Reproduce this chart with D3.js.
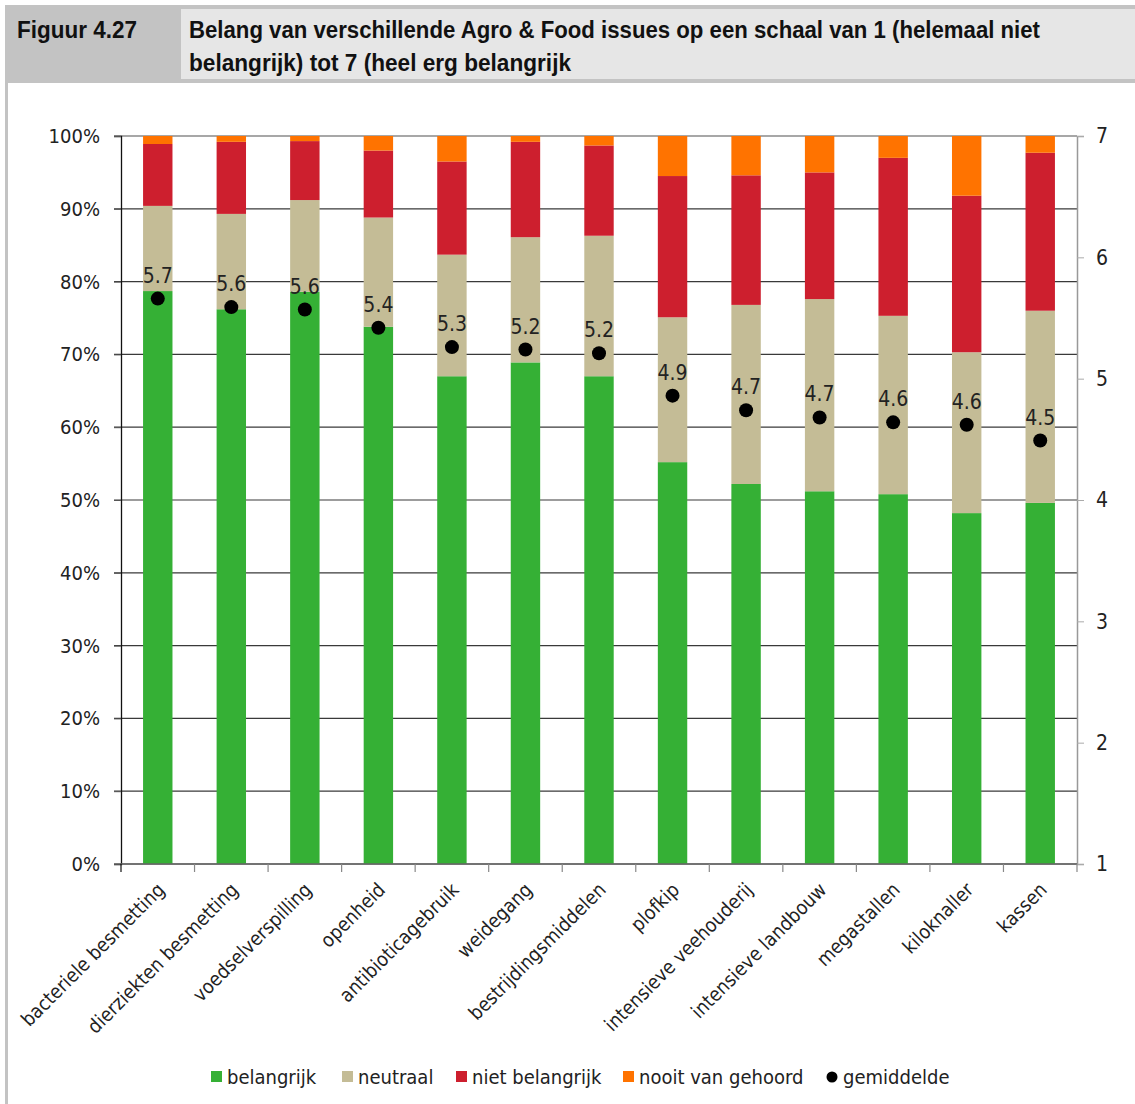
<!DOCTYPE html>
<html><head><meta charset="utf-8">
<script src="https://cdn.jsdelivr.net/npm/d3@7"></script>
<style>
body{margin:0;background:#fff;}
svg{display:block;}
.ax{font-family:'DejaVu Sans Condensed','DejaVu Sans',sans-serif;font-stretch:condensed;}
</style></head><body>
<svg id="chart" width="1135" height="1104"></svg>
<script>
const categories = ["bacteriele besmetting","dierziekten besmetting","voedselverspilling","openheid","antibioticagebruik","weidegang","bestrijdingsmiddelen","plofkip","intensieve veehouderij","intensieve landbouw","megastallen","kiloknaller","kassen"];
const belangrijk     = [78.7,76.2,78.6,73.8,67.0,68.9,67.0,55.2,52.2,51.2,50.8,48.2,49.6];
const neutraal       = [11.7,13.1,12.6,15.0,16.7,17.2,19.3,19.9,24.6,26.4,24.5,22.1,26.4];
const nietBelangrijk = [ 8.5, 9.9, 8.1, 9.2,12.8,13.1,12.4,19.4,17.8,17.4,21.7,21.5,21.7];
const nooitGehoord   = [ 1.1, 0.8, 0.7, 2.0, 3.5, 0.8, 1.3, 5.5, 5.4, 5.0, 3.0, 8.2, 2.3];
const gemiddelde     = [5.66,5.59,5.57,5.42,5.26,5.24,5.21,4.86,4.74,4.68,4.64,4.62,4.49];
const leftTicks = [0,10,20,30,40,50,60,70,80,90,100];
const rightTicks = [1,2,3,4,5,6,7];
const seriesNames = ["belangrijk","neutraal","niet belangrijk","nooit van gehoord"];
const seriesColors = ["#35b035","#c4bc96","#cd1f2e","#ff7300"];
const figLabel = "Figuur 4.27";
const titleLines = ["Belang van verschillende Agro & Food issues op een schaal van 1 (helemaal niet","belangrijk) tot 7 (heel erg belangrijk"];

const svg = d3.select("#chart");
// header
svg.append("rect").attr("x",5).attr("y",5).attr("width",1130).attr("height",78).attr("fill","#c3c3c3");
svg.append("rect").attr("x",181).attr("y",9).attr("width",954).attr("height",70).attr("fill","#e6e6e6");
svg.append("rect").attr("x",5).attr("y",83).attr("width",3).attr("height",1021).attr("fill","#c3c3c3");
const hf = "'Liberation Sans Narrow','Liberation Sans',Arial,sans-serif";
svg.append("text").text(figLabel).attr("x",17).attr("y",38).attr("font-family",hf).attr("font-weight","bold").attr("font-size",23).attr("fill","#111").attr("textLength",120).attr("lengthAdjust","spacingAndGlyphs");
svg.append("text").text(titleLines[0]).attr("x",189).attr("y",38).attr("font-family",hf).attr("font-weight","bold").attr("font-size",23).attr("fill","#111").attr("textLength",851).attr("lengthAdjust","spacingAndGlyphs");
svg.append("text").text(titleLines[1]).attr("x",189).attr("y",71).attr("font-family",hf).attr("font-weight","bold").attr("font-size",23).attr("fill","#111").attr("textLength",382).attr("lengthAdjust","spacingAndGlyphs");

const L = 121, R = 1077, T = 136, B = 864;
const x = d3.scaleBand().domain(categories).range([L,R]).paddingInner(0.6).paddingOuter(0.3);
const y = d3.scaleLinear().domain([0,100]).range([B,T]);
const y2 = d3.scaleLinear().domain([1,7]).range([B,T]);

// gridlines
const g = svg.append("g");
g.selectAll("line.grid").data(leftTicks).join("line")
  .attr("x1",114).attr("x2",R).attr("y1",d=>y(d)).attr("y2",d=>y(d))
  .attr("stroke",d=>d===100?"#8a8a8a":"#3a3a3a").attr("stroke-width",d=>d===100?1.6:1.2);

// stacked bars
const rows = categories.map((c,i)=>({cat:c,"belangrijk":belangrijk[i],"neutraal":neutraal[i],"niet belangrijk":nietBelangrijk[i],"nooit van gehoord":nooitGehoord[i]}));
const stack = d3.stack().keys(seriesNames)(rows);
stack.forEach((s,si)=>{
  svg.append("g").selectAll("rect").data(s).join("rect")
    .attr("x",d=>x(d.data.cat)).attr("width",x.bandwidth())
    .attr("y",d=>y(Math.min(100,d[1]))).attr("height",d=>y(d[0])-y(Math.min(100,d[1])))
    .attr("fill",seriesColors[si]);
});

// left axis
const la = svg.append("g").attr("class","ax").attr("transform",`translate(${L},0)`)
  .call(d3.axisLeft(y).tickValues(leftTicks).tickFormat(d=>d+"%").tickSize(7).tickPadding(14));
la.select(".domain").attr("stroke","#111").attr("stroke-width",1.3);
la.selectAll(".tick line").attr("stroke","#555");
la.selectAll("text").attr("font-size",20).attr("fill","#222");

// right axis
const ra = svg.append("g").attr("class","ax").attr("transform",`translate(${R},0)`)
  .call(d3.axisRight(y2).tickValues(rightTicks).tickFormat(d3.format("d")).tickSize(7).tickPadding(12));
ra.select(".domain").attr("stroke","#999").attr("stroke-width",1.5);
ra.selectAll(".tick line").attr("stroke","#aaa");
ra.selectAll("text").attr("font-size",21).attr("fill","#222");

// bottom axis
const bounds = categories.map(c=>x(c)-x.step()*x.paddingInner()/2).concat([R]);
svg.append("line").attr("x1",L).attr("x2",R).attr("y1",B).attr("y2",B).attr("stroke","#666").attr("stroke-width",1.5);
svg.append("g").selectAll("line").data(bounds).join("line")
  .attr("x1",d=>d).attr("x2",d=>d).attr("y1",B).attr("y2",B+8).attr("stroke",(d,i)=>i===0?"#111":"#888").attr("stroke-width",1.2);
svg.append("g").attr("class","ax").selectAll("text").data(categories).join("text")
  .attr("transform",d=>`translate(${x(d)+x.bandwidth()/2+8},${B+27}) rotate(-45)`)
  .attr("text-anchor","end").attr("font-size",19.5).attr("fill","#222").text(d=>d);

// mean dots and labels
const cx = d=>x(d)+x.bandwidth()/2;
svg.append("g").selectAll("circle").data(categories).join("circle")
  .attr("cx",cx).attr("cy",(d,i)=>y2(gemiddelde[i])).attr("r",7).attr("fill","#000");
svg.append("g").attr("class","ax").selectAll("text").data(categories).join("text")
  .attr("x",cx).attr("y",(d,i)=>y2(gemiddelde[i])-16)
  .attr("text-anchor","middle").attr("font-size",21).attr("fill","#222")
  .text((d,i)=>gemiddelde[i].toFixed(1));

// legend
const legItems = [
  {name:"belangrijk",color:seriesColors[0],x:211,type:"rect"},
  {name:"neutraal",color:seriesColors[1],x:342,type:"rect"},
  {name:"niet belangrijk",color:seriesColors[2],x:456,type:"rect"},
  {name:"nooit van gehoord",color:seriesColors[3],x:623,type:"rect"},
  {name:"gemiddelde",color:"#000",x:827,type:"dot"}];
const lg = svg.append("g").attr("class","ax");
legItems.forEach(it=>{
  if(it.type==="rect") lg.append("rect").attr("x",it.x).attr("y",1071).attr("width",11).attr("height",11).attr("fill",it.color);
  else lg.append("circle").attr("cx",it.x+5).attr("cy",1077).attr("r",5.5).attr("fill",it.color);
  lg.append("text").attr("x",it.x+16).attr("y",1084).attr("font-size",20).attr("fill","#222").text(it.name);
});
</script></body></html>
